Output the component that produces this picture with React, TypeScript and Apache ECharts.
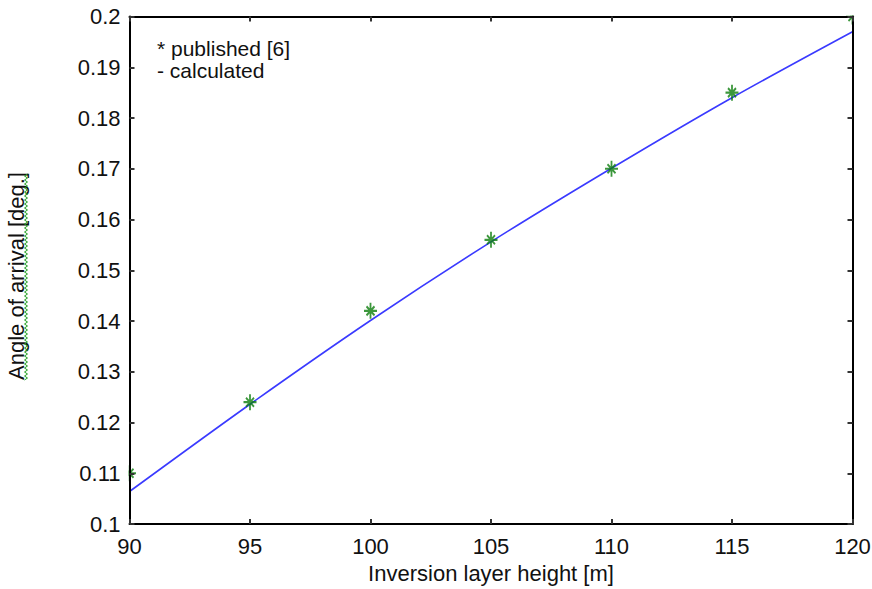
import React, { useEffect, useRef } from "react";
import * as echarts from "echarts";

const heights = [90, 95, 100, 105, 110, 115, 120];
const published = [0.11, 0.124, 0.142, 0.156, 0.17, 0.185, 0.2];
const calculated = [0.1064, 0.1236, 0.1401, 0.1556, 0.1701, 0.184, 0.197];
const legendLines = ["* published [6]", "- calculated"];
const xName = "Inversion layer height [m]";
const yName = "Angle of arrival [deg.]";

const FONT = "'Liberation Sans', Arial, sans-serif";
const GREEN = "#0b7d0b";
const BLUE = "#3a3aff";

export default function App() {
  const ref = useRef<HTMLDivElement>(null);
  useEffect(() => {
    if (!ref.current) return;
    const chart = echarts.init(ref.current, null, { renderer: "svg" });
    const squiggle: number[][] = [];
    for (let y = 380; y >= 173; y -= 2) {
      squiggle.push([((380 - y) / 2) % 2 === 0 ? 24.5 : 27.5, y]);
    }
    const axisCommon = {
      type: "value" as const,
      axisLine: { show: true, lineStyle: { color: "#000", width: 2 } },
      axisTick: { show: true, inside: true, length: 5, lineStyle: { color: "#333", width: 2 } },
      splitLine: { show: false },
      z: 10,
    };
    chart.setOption({
      animation: false,
      backgroundColor: "#fff",
      grid: {
        left: 129.5,
        right: 19.5,
        top: 16.5,
        bottom: 65,
        containLabel: false,
        outerBoundsMode: "none",
      },
      xAxis: [
        {
          ...axisCommon,
          position: "bottom",
          min: 90,
          max: 120,
          interval: 5,
          name: xName,
          nameLocation: "middle",
          nameGap: 38,
          nameTextStyle: { fontFamily: FONT, fontSize: 22, color: "#111", verticalAlign: "top" },
          axisLabel: { fontFamily: FONT, fontSize: 22, color: "#111", margin: 11 },
        },
        {
          ...axisCommon,
          position: "top",
          min: 90,
          max: 120,
          interval: 5,
          axisLabel: { show: false },
        },
      ],
      yAxis: [
        {
          ...axisCommon,
          position: "left",
          min: 0.1,
          max: 0.2,
          interval: 0.01,
          axisLabel: {
            fontFamily: FONT,
            fontSize: 22,
            color: "#111",
            margin: 9,
            formatter: (v: number) => String(Math.round(v * 100) / 100),
          },
        },
        {
          ...axisCommon,
          position: "right",
          min: 0.1,
          max: 0.2,
          interval: 0.01,
          axisLabel: { show: false },
        },
      ],
      series: [
        {
          type: "line",
          name: "calculated",
          data: heights.map((h, i) => [h, calculated[i]]),
          smooth: 0.3,
          showSymbol: false,
          lineStyle: { color: BLUE, width: 1.6 },
          clip: true,
          z: 2,
        },
        {
          type: "scatter",
          name: "published",
          data: heights.map((h, i) => [h, published[i]]),
          symbol: "path://M0,-8L0,8M-6.5,0L6.5,0M-4,-4.5L4,4.5M-4,4.5L4,-4.5",
          symbolSize: [13, 16],
          itemStyle: { color: GREEN, borderColor: GREEN, borderWidth: 2 },
          clip: true,
          z: 3,
        },
      ],
      graphic: [
        { type: "rect", z: 5, shape: { x: 121, y: 0, width: 7.5, height: 540 }, style: { fill: "#fff" } },
        { type: "rect", z: 5, shape: { x: 121, y: 0, width: 751, height: 15.5 }, style: { fill: "#fff" } },
        { type: "rect", z: 5, shape: { x: 853.5, y: 0, width: 18.5, height: 530 }, style: { fill: "#fff" } },
        {
          type: "text",
          left: 157,
          top: 38,
          z: 6,
          style: { text: legendLines[0], font: `21px ${FONT}`, fill: "#111" },
        },
        {
          type: "text",
          left: 157,
          top: 60,
          z: 6,
          style: { text: legendLines[1], font: `21px ${FONT}`, fill: "#111" },
        },
        {
          type: "text",
          x: 16,
          y: 276,
          rotation: Math.PI / 2,
          z: 6,
          style: {
            text: yName,
            font: `22px ${FONT}`,
            fill: "#111",
            align: "center",
            verticalAlign: "middle",
          },
        },
        {
          type: "polyline",
          z: 7,
          shape: { points: squiggle },
          style: { stroke: "#22a022", lineWidth: 1, fill: "none" },
        },
      ],
    });
    return () => chart.dispose();
  }, []);
  return (
    <div
      ref={ref}
      style={{ position: "fixed", left: 0, top: 0, width: 872, height: 589 }}
    />
  );
}
